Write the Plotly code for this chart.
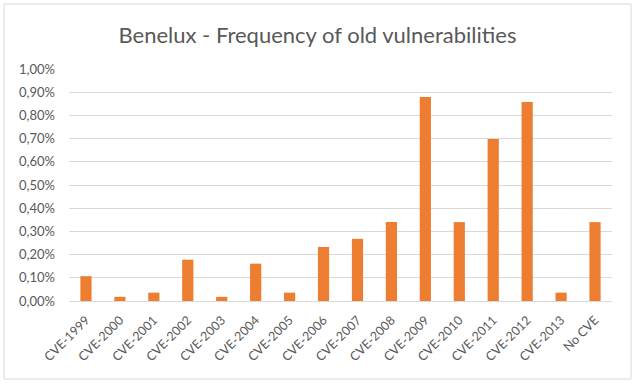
import plotly.graph_objects as go

categories = ["CVE-1999", "CVE-2000", "CVE-2001", "CVE-2002", "CVE-2003", "CVE-2004",
              "CVE-2005", "CVE-2006", "CVE-2007", "CVE-2008", "CVE-2009", "CVE-2010",
              "CVE-2011", "CVE-2012", "CVE-2013", "No CVE"]
values_pct = [0.107, 0.018, 0.036, 0.178, 0.018, 0.161, 0.036, 0.233, 0.268, 0.340,
              0.879, 0.340, 0.698, 0.858, 0.036, 0.340]
values = [v / 100 for v in values_pct]
tick_vals = [i / 1000 for i in range(0, 11)]

fig = go.Figure(go.Bar(x=categories, y=values, marker=dict(color="#ED7D31", line=dict(width=0))))

fig.update_layout(
    width=635, height=384,
    separators=",.",
    paper_bgcolor="white", plot_bgcolor="white",
    margin=dict(l=69, r=23, t=69, b=83, autoexpand=False),
    bargap=0.67,
    showlegend=False,
    font=dict(family="Lato, Open Sans, sans-serif", color="#595959", size=12),
    title=dict(text="Benelux - Frequency of old vulnerabilities", x=0.5, xanchor="center",
               y=1 - 35 / 384, yanchor="middle",
               font=dict(size=22, color="#595959", family="Lato, Open Sans, sans-serif")),
    shapes=[dict(type="rect", xref="paper", yref="paper", x0=-65 / 543, x1=1 + 19 / 543,
                 y0=-78 / 232, y1=1 + 65 / 232, line=dict(color="#D9D9D9", width=1))],
)
fig.update_xaxes(tickangle=-45, showgrid=False, showline=True, linecolor="#D9D9D9",
                 ticks="", automargin=False, ticklabelstandoff=6,
                 tickfont=dict(size=12.5, color="#595959"))
fig.update_yaxes(range=[0, 0.01], tickvals=tick_vals, tickformat=".2%", showgrid=True,
                 gridcolor="#D9D9D9", zeroline=False, showline=False, ticks="",
                 automargin=False, ticklabelstandoff=13,
                 tickfont=dict(size=13, color="#595959"))

fig.write_html("out.html", post_script="document.body.style.margin='0px';",
               config={"displayModeBar": False})
